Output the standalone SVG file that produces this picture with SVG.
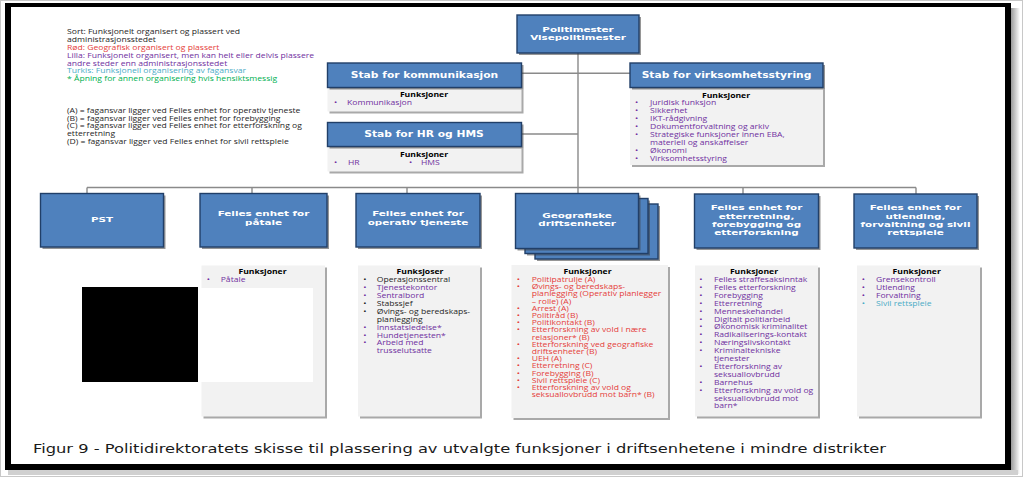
<svg xmlns="http://www.w3.org/2000/svg" width="1024" height="478" viewBox="0 0 1024 478">
<defs>
<style>
.box{fill:#4f81bd;stroke:#213f68;stroke-width:1.4}
.sh{fill:#404040;opacity:.55}
.pnl{fill:#f2f2f2}
.psh{fill:#a9a9a9}
.t{font-family:"DejaVu Sans",Verdana,sans-serif;font-weight:bold;fill:#fff;text-anchor:middle;font-size:7.8px}
.ts{font-size:9.5px}
.b{font-family:"Open Sans","Liberation Sans",sans-serif;font-size:7px}
.hd{font-weight:bold;fill:#000;text-anchor:middle}
.k{fill:#262626}.r{fill:#e5403b}.p{fill:#7030a0}.c{fill:#4bacc6}.g{fill:#00b050}
.ln{stroke:#8a8a8a;stroke-width:1.4;fill:none}
.cap{font-family:"DejaVu Sans",Verdana,sans-serif;font-size:12.5px;fill:#1a1a1a}
</style>
<linearGradient id="gs" x1="0" x2="1"><stop offset="0" stop-color="#9a9a9a"/><stop offset="1" stop-color="#ffffff"/></linearGradient>
</defs>
<rect width="1024" height="478" fill="#fff"/>
<g id="frame">
<rect x="0.5" y="0.5" width="1022" height="476" fill="none" stroke="#c8c8c8"/>
<rect x="1011" y="8" width="9" height="466" fill="url(#gs)"/>
<rect x="8" y="470" width="1010" height="5" fill="#d0d0d0"/>
<rect x="5" y="3" width="6" height="467" fill="#000"/>
<rect x="5" y="3" width="1006" height="4" fill="#000"/>
<rect x="1005" y="3" width="6" height="467" fill="#000"/>
<rect x="5" y="464" width="1006" height="6" fill="#000"/>
</g>
<g id="legend" class="b" transform="translate(67,0) scale(1.23,1)">
<text x="0" y="34.5" class="k">Sort: Funksjonelt organisert og plassert ved</text>
<text x="0" y="42.3" class="k">administrasjonsstedet</text>
<text x="0" y="50.1" class="r">Rød: Geografisk organisert og plassert</text>
<text x="0" y="57.9" class="p">Lilla: Funksjonelt organisert, men kan helt eller delvis plassere</text>
<text x="0" y="65.7" class="p">andre steder enn administrasjonsstedet</text>
<text x="0" y="73.5" class="c">Turkis: Funksjonell organisering av fagansvar</text>
<text x="0" y="81.3" class="g">* Åpning for annen organisering hvis hensiktsmessig</text>
<text x="0" y="113" class="k">(A) = fagansvar ligger ved Felles enhet for operativ tjeneste</text>
<text x="0" y="120.7" class="k">(B) = fagansvar ligger ved Felles enhet for forebygging</text>
<text x="0" y="128.5" class="k">(C) = fagansvar ligger ved Felles enhet for etterforskning og</text>
<text x="0" y="136.2" class="k">etterretning</text>
<text x="0" y="144" class="k">(D) = fagansvar ligger ved Felles enhet for sivil rettspleie</text>
</g>
<g id="connectors">
<path class="ln" d="M578 53V187.5M522 73.3H630M522 134H578M87 187.5H916M87 187.5V193.5M252 187.5V193.5M407 187.5V193.5M578 187.5V193.5M743 187.5V194M916 187.5V194"/>
</g>
<g id="politimester">
<rect class="sh" x="519" y="17" width="122" height="38"/>
<rect class="box" x="517" y="15" width="122" height="38"/>
<g transform="translate(578,0) scale(1.33,1)"><text class="t" x="0" y="31.8">Politimester</text><text class="t" x="0" y="40.2">Visepolitimester</text></g>
</g>
<g id="stab-kommunikasjon">
<rect class="psh" x="329.5" y="89.5" width="194" height="24"/>
<rect class="pnl" x="327.5" y="87.5" width="194" height="24"/>
<rect class="sh" x="329.5" y="65" width="194" height="24.5"/>
<rect class="box" x="327.5" y="63" width="194" height="24.5"/>
<g transform="translate(424.5,0) scale(1.13,1)"><text class="t ts" x="0" y="77.6">Stab for kommunikasjon</text></g>
<g class="b" transform="translate(347,0) scale(1.23,1)">
<text class="hd" x="62.6" y="97">Funksjoner</text>
<text class="p" x="-10.6" y="105">•</text><text class="p" x="0" y="105">Kommunikasjon</text>
</g>
</g>
<g id="stab-hr">
<rect class="psh" x="329.5" y="148.5" width="194" height="25"/>
<rect class="pnl" x="327.5" y="146.5" width="194" height="25"/>
<rect class="sh" x="329.5" y="124.5" width="194" height="24"/>
<rect class="box" x="327.5" y="122.5" width="194" height="24"/>
<g transform="translate(424,0) scale(1.13,1)"><text class="t ts" x="0" y="137.3">Stab for HR og HMS</text></g>
<g class="b" transform="translate(348,0) scale(1.23,1)">
<text class="hd" x="61.8" y="157">Funksjoner</text>
<text class="p" x="-11.4" y="165.5">•</text><text class="p" x="0" y="165.5">HR</text>
<text class="p" x="49.6" y="165.5">•</text><text class="p" x="59.3" y="165.5">HMS</text>
</g>
</g>
<g id="stab-virksomhet">
<rect class="psh" x="632" y="89.5" width="193" height="77.5"/>
<rect class="pnl" x="630" y="87.5" width="193" height="77.5"/>
<rect class="sh" x="632" y="65" width="193" height="24.5"/>
<rect class="box" x="630" y="63" width="193" height="24.5"/>
<g transform="translate(726.5,0) scale(1.13,1)"><text class="t ts" x="0" y="77.6">Stab for virksomhetsstyring</text></g>
<g class="b p" transform="translate(650,0) scale(1.23,1)">
<text class="hd" x="61.8" y="98">Funksjoner</text>
<text x="-12.2" y="105.5">•</text><text x="0" y="105.5">Juridisk funksjon</text>
<text x="-12.2" y="113.4">•</text><text x="0" y="113.4">Sikkerhet</text>
<text x="-12.2" y="121.3">•</text><text x="0" y="121.3">IKT-rådgivning</text>
<text x="-12.2" y="129.2">•</text><text x="0" y="129.2">Dokumentforvaltning og arkiv</text>
<text x="-12.2" y="137.1">•</text><text x="0" y="137.1">Strategiske funksjoner innen EBA,</text>
<text x="0" y="145">materiell og anskaffelser</text>
<text x="-12.2" y="152.9">•</text><text x="0" y="152.9">Økonomi</text>
<text x="-12.2" y="160.8">•</text><text x="0" y="160.8">Virksomhetsstyring</text>
</g>
</g>
<g id="pst">
<rect class="sh" x="42.5" y="195.5" width="123" height="53.5"/>
<rect class="box" x="40.5" y="193.5" width="123" height="53.5"/>
<g transform="translate(102,0) scale(1.33,1)"><text class="t" x="0" y="222.5">PST</text></g>
</g>
<g id="patale">
<rect class="sh" x="202" y="195.5" width="127" height="53.5"/>
<rect class="box" x="200" y="193.5" width="127" height="53.5"/>
<g transform="translate(263.5,0) scale(1.33,1)"><text class="t" x="0" y="216.3">Felles enhet for</text><text class="t" x="0" y="225">påtale</text></g>
<rect class="psh" x="203.5" y="267.5" width="123.5" height="151"/>
<rect class="pnl" x="201.5" y="265.5" width="123.5" height="151"/>
<g class="b p" transform="translate(220.7,0) scale(1.23,1)">
<text class="hd" x="34" y="274.5">Funksjoner</text>
<text x="-11.4" y="282">•</text><text x="0" y="282">Påtale</text>
</g>
</g>
<g id="redaction">
<rect x="82" y="287" width="116" height="95" fill="#000"/>
<rect x="198" y="288" width="115" height="94" fill="#fff"/>
</g>
<g id="operativ">
<rect class="sh" x="358" y="195.5" width="124" height="53.5"/>
<rect class="box" x="356" y="193.5" width="124" height="53.5"/>
<g transform="translate(418,0) scale(1.33,1)"><text class="t" x="0" y="216.3">Felles enhet for</text><text class="t" x="0" y="225">operativ tjeneste</text></g>
<rect class="psh" x="360" y="267.5" width="122" height="151"/>
<rect class="pnl" x="358" y="265.5" width="122" height="151"/>
<g class="b" transform="translate(376.7,0) scale(1.23,1)">
<text class="hd" x="35.2" y="274.5">Funksjoser</text>
<text class="k" x="-10.9" y="282.1">•</text><text class="k" x="0" y="282.1">Operasjonssentral</text>
<text class="p" x="-10.9" y="290">•</text><text class="p" x="0" y="290">Tjenestekontor</text>
<text class="p" x="-10.9" y="298">•</text><text class="p" x="0" y="298">Sentralbord</text>
<text class="k" x="-10.9" y="305.9">•</text><text class="k" x="0" y="305.9">Stabssjef</text>
<text class="k" x="-10.9" y="313.8">•</text><text class="k" x="0" y="313.8">Øvings- og beredskaps-</text>
<text class="k" x="0" y="321.8">planlegging</text>
<text class="p" x="-10.9" y="329.7">•</text><text class="p" x="0" y="329.7">Innstatsledelse*</text>
<text class="p" x="-10.9" y="337.6">•</text><text class="p" x="0" y="337.6">Hundetjenesten*</text>
<text class="p" x="-10.9" y="345.5">•</text><text class="p" x="0" y="345.5">Arbeid med</text>
<text class="p" x="0" y="353.5">trusselutsatte</text>
</g>
</g>
<g id="geografiske">
<rect class="sh" x="537" y="206" width="123" height="55"/>
<rect class="box" x="535" y="204" width="123" height="55"/>
<rect class="sh" x="527" y="200.5" width="123" height="55"/>
<rect class="box" x="525" y="198.5" width="123" height="55"/>
<rect class="sh" x="517.5" y="195.5" width="123" height="55"/>
<rect class="box" x="515.5" y="193.5" width="123" height="55"/>
<g transform="translate(577,0) scale(1.33,1)"><text class="t" x="0" y="217.8">Geografiske</text><text class="t" x="0" y="226.2">driftsenheter</text></g>
<rect class="psh" x="513.5" y="267" width="156.5" height="153"/>
<rect class="pnl" x="511.5" y="265" width="156.5" height="153"/>
<g class="b r" transform="translate(531.7,0) scale(1.23,1)">
<text class="hd" x="45.4" y="274.2">Funksjoner</text>
<text x="-12.2" y="282.1">•</text><text x="0" y="282.1">Politipatrulje (A)</text>
<text x="-12.2" y="289.3">•</text><text x="0" y="289.3">Øvings- og beredskaps-</text>
<text x="0" y="296.5">planlegging (Operativ planlegger</text>
<text x="0" y="303.7">– rolle) (A)</text>
<text x="-12.2" y="310.9">•</text><text x="0" y="310.9">Arrest (A)</text>
<text x="-12.2" y="318.1">•</text><text x="0" y="318.1">Politiråd (B)</text>
<text x="-12.2" y="325.2">•</text><text x="0" y="325.2">Politikontakt (B)</text>
<text x="-12.2" y="332.4">•</text><text x="0" y="332.4">Etterforskning av vold i nære</text>
<text x="0" y="339.6">relasjoner* (B)</text>
<text x="-12.2" y="346.8">•</text><text x="0" y="346.8">Etterforskning ved geografiske</text>
<text x="0" y="354">driftsenheter (B)</text>
<text x="-12.2" y="361.2">•</text><text x="0" y="361.2">UEH (A)</text>
<text x="-12.2" y="368.4">•</text><text x="0" y="368.4">Etterretning (C)</text>
<text x="-12.2" y="375.6">•</text><text x="0" y="375.6">Forebygging (B)</text>
<text x="-12.2" y="382.8">•</text><text x="0" y="382.8">Sivil rettspleie (C)</text>
<text x="-12.2" y="390">•</text><text x="0" y="390">Etterforskning av vold og</text>
<text x="0" y="397.1">seksuallovbrudd mot barn* (B)</text>
</g>
</g>
<g id="etterretning">
<rect class="sh" x="696.5" y="196" width="124" height="54"/>
<rect class="box" x="694.5" y="194" width="124" height="54"/>
<g transform="translate(756.5,0) scale(1.33,1)"><text class="t" x="0" y="210.5">Felles enhet for</text><text class="t" x="0" y="218.7">etterretning,</text><text class="t" x="0" y="226.9">forebygging og</text><text class="t" x="0" y="235.1">etterforskning</text></g>
<rect class="psh" x="697" y="267.5" width="123" height="151"/>
<rect class="pnl" x="695" y="265.5" width="123" height="151"/>
<g class="b p" transform="translate(714,0) scale(1.23,1)">
<text class="hd" x="32.5" y="274.5">Funksjoner</text>
<text x="-12" y="282.1">•</text><text x="0" y="282.1">Felles straffesaksinntak</text>
<text x="-12" y="290">•</text><text x="0" y="290">Felles etterforskning</text>
<text x="-12" y="297.9">•</text><text x="0" y="297.9">Forebygging</text>
<text x="-12" y="305.8">•</text><text x="0" y="305.8">Etterretning</text>
<text x="-12" y="313.7">•</text><text x="0" y="313.7">Menneskehandel</text>
<text x="-12" y="321.6">•</text><text x="0" y="321.6">Digitalt politiarbeid</text>
<text x="-12" y="329.5">•</text><text x="0" y="329.5">Økonomisk kriminalitet</text>
<text x="-12" y="337.4">•</text><text x="0" y="337.4">Radikaliserings-kontakt</text>
<text x="-12" y="345.3">•</text><text x="0" y="345.3">Næringslivskontakt</text>
<text x="-12" y="353.2">•</text><text x="0" y="353.2">Kriminaltekniske</text>
<text x="0" y="361.1">tjenester</text>
<text x="-12" y="369">•</text><text x="0" y="369">Etterforskning av</text>
<text x="0" y="376.9">seksuallovbrudd</text>
<text x="-12" y="384.8">•</text><text x="0" y="384.8">Barnehus</text>
<text x="-12" y="392.7">•</text><text x="0" y="392.7">Etterforskning av vold og</text>
<text x="0" y="400.6">seksuallovbrudd mot</text>
<text x="0" y="408.5">barn*</text>
</g>
</g>
<g id="utlending">
<rect class="sh" x="856" y="196" width="123" height="54"/>
<rect class="box" x="854" y="194" width="123" height="54"/>
<g transform="translate(915.5,0) scale(1.33,1)"><text class="t" x="0" y="210.5">Felles enhet for</text><text class="t" x="0" y="218.7">utlending,</text><text class="t" x="0" y="226.9">forvaltning og sivil</text><text class="t" x="0" y="235.1">rettspleie</text></g>
<rect class="psh" x="859" y="267.5" width="123" height="151"/>
<rect class="pnl" x="857" y="265.5" width="123" height="151"/>
<g class="b p" transform="translate(876,0) scale(1.23,1)">
<text class="hd" x="33.1" y="274.5">Funksjoner</text>
<text x="-11.6" y="282.1">•</text><text x="0" y="282.1">Grensekontroll</text>
<text x="-11.6" y="290.1">•</text><text x="0" y="290.1">Utlending</text>
<text x="-11.6" y="298.1">•</text><text x="0" y="298.1">Forvaltning</text>
<text class="c" x="-11.6" y="306.1">•</text><text class="c" x="0" y="306.1">Sivil rettspleie</text>
</g>
</g>
<g id="caption">
<text class="cap" x="33" y="452.5" textLength="853" lengthAdjust="spacingAndGlyphs">Figur 9 - Politidirektoratets skisse til plassering av utvalgte funksjoner i driftsenhetene i mindre distrikter</text>
</g>
</svg>
